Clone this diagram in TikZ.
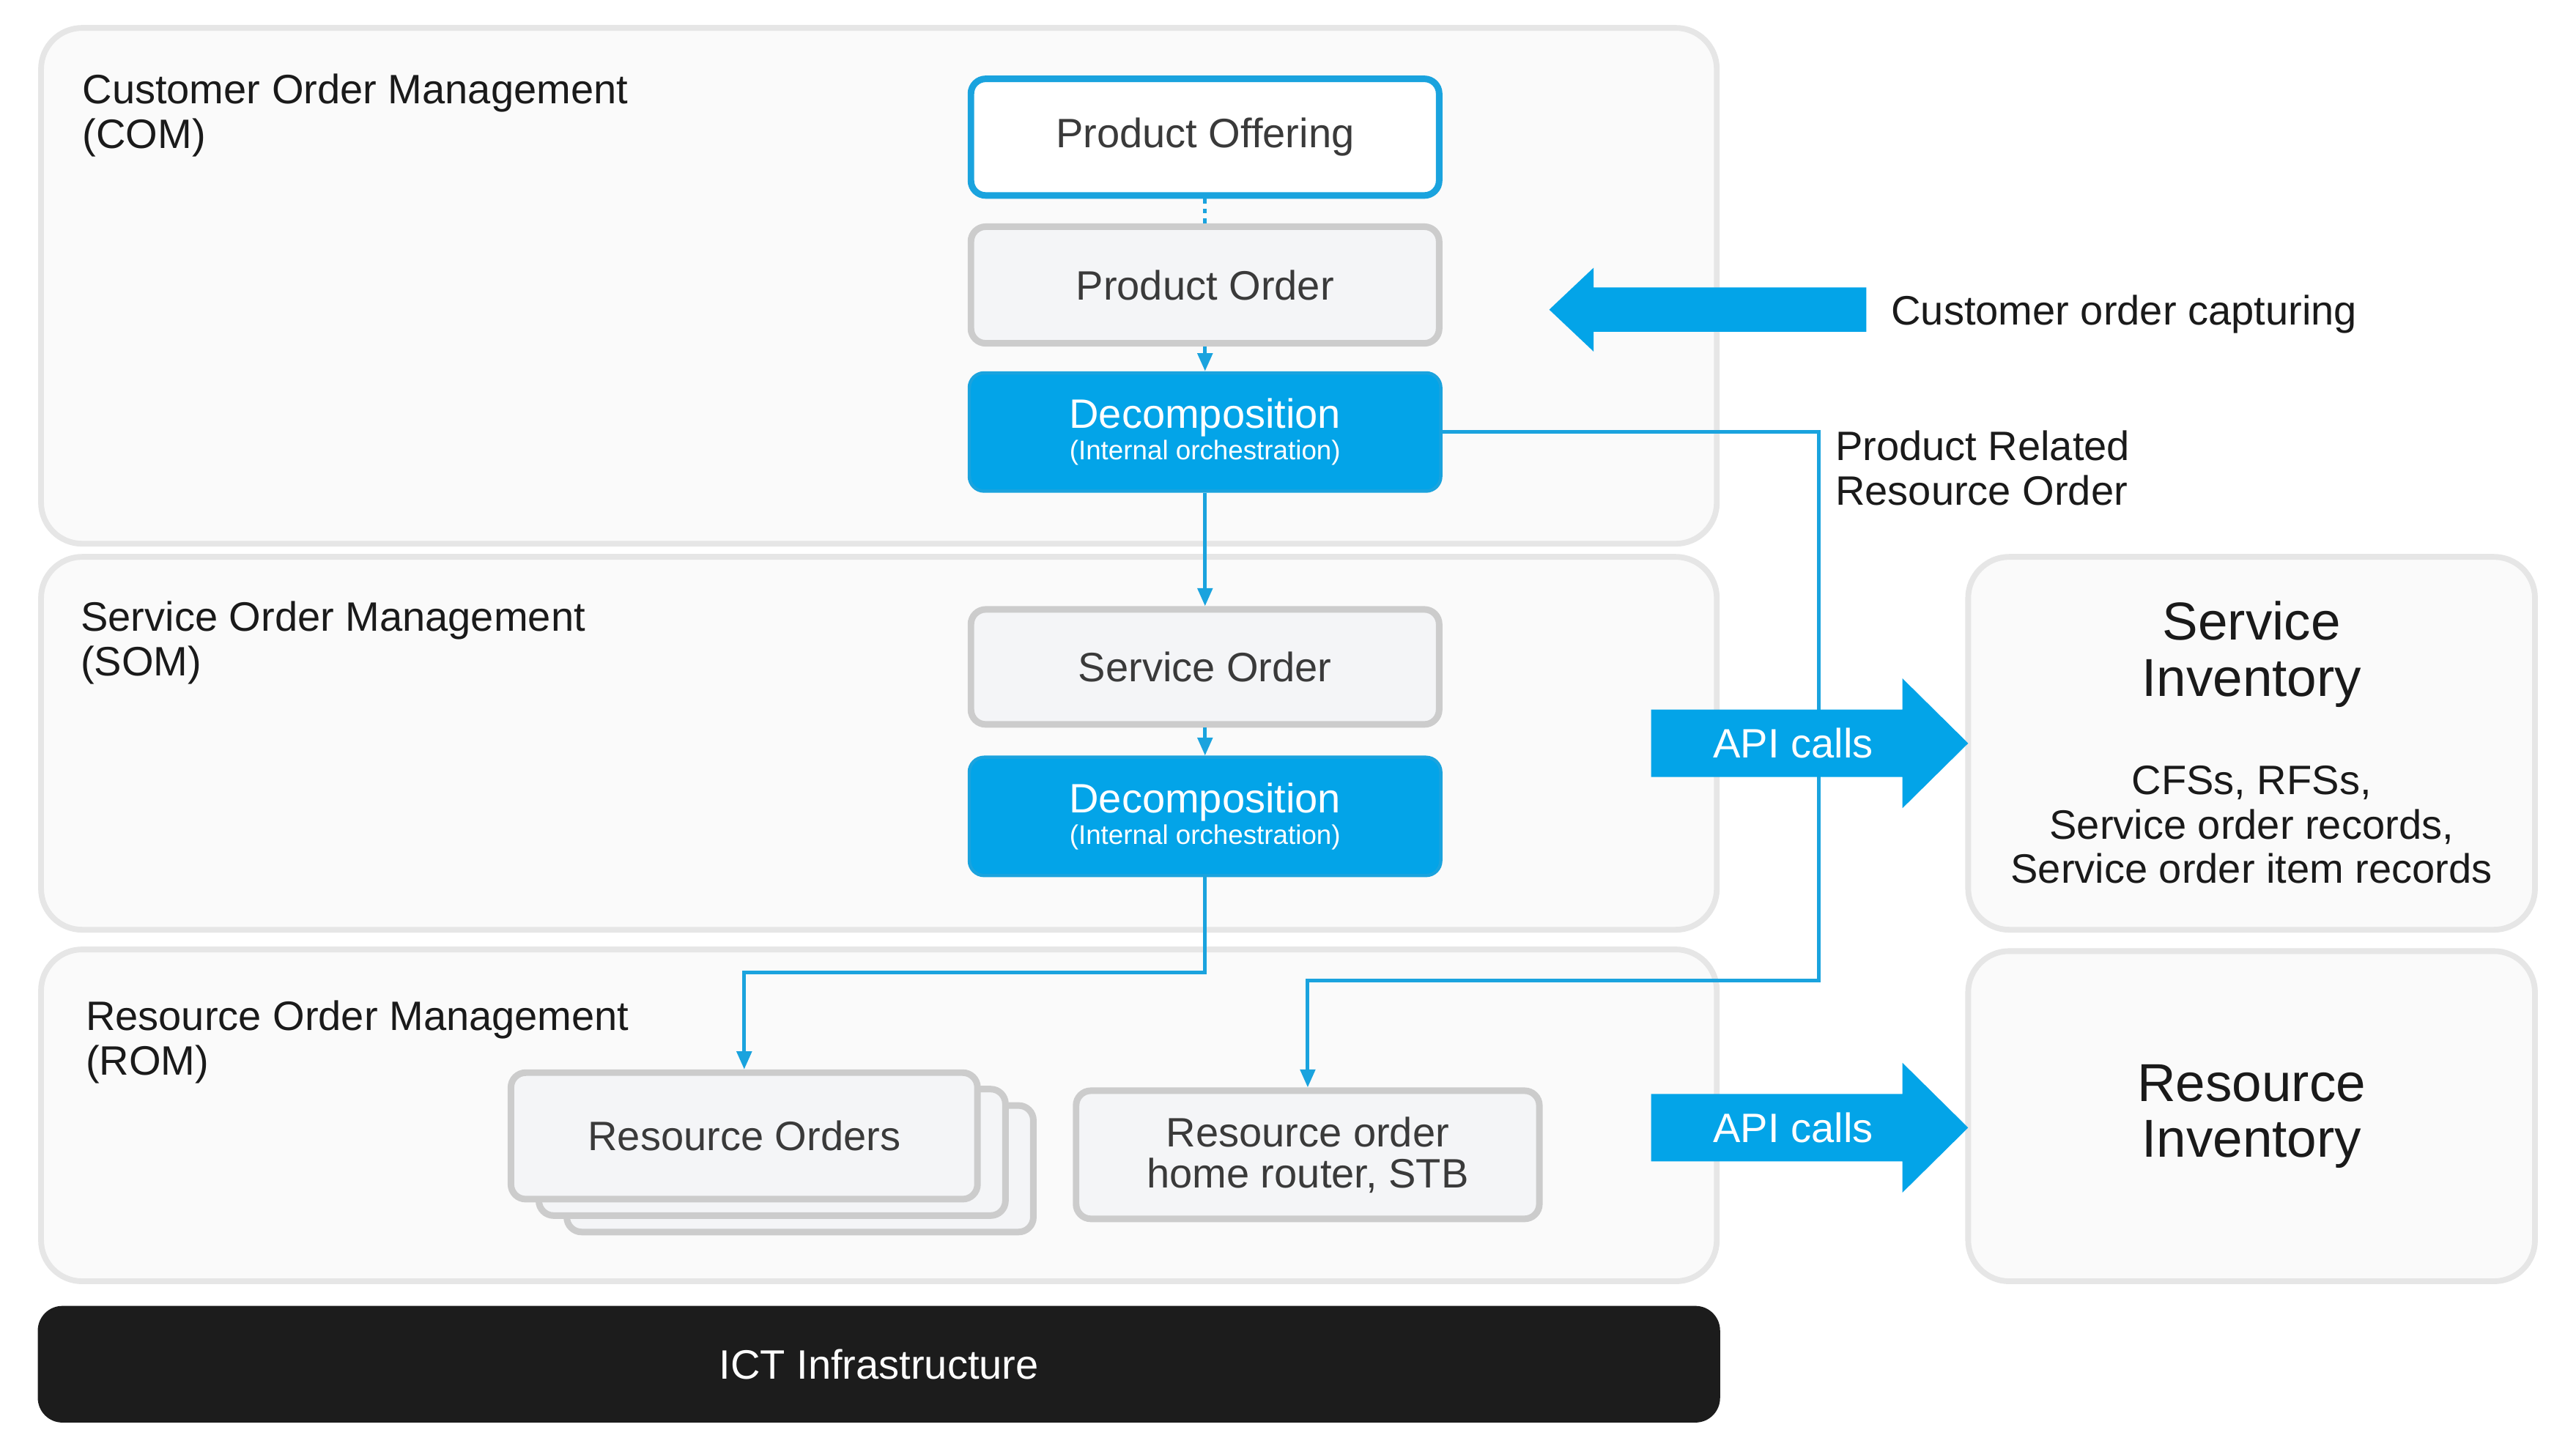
\documentclass[tikz,border=0pt]{standalone}
\usepackage{fontspec}
\setmainfont{Liberation Sans}
\usetikzlibrary{arrows.meta}
\definecolor{brandblue}{HTML}{03A4E8}
\definecolor{linkblue}{HTML}{1AA3DE}
\definecolor{panelfill}{HTML}{FAFAFA}
\definecolor{panelline}{HTML}{E6E6E6}
\definecolor{boxfill}{HTML}{F4F5F7}
\definecolor{boxline}{HTML}{CCCCCC}
\definecolor{inktext}{HTML}{1A1A1A}
\definecolor{boxtext}{HTML}{3A3A3A}
\definecolor{barblack}{HTML}{1C1C1C}
\begin{document}
\begin{tikzpicture}[x=1pt,y=-1pt,
  panel/.style={draw=panelline, fill=panelfill, line width=3.5pt, rounded corners=25pt, inner sep=0pt},
  lbl/.style={font=\fontsize{25}{27}\selectfont, text=inktext, align=left, inner sep=0pt, anchor=north west},
  graybox/.style={draw=boxline, fill=boxfill, line width=4pt, rounded corners=9pt, minimum width=285pt, minimum height=71pt, font=\fontsize{25}{27}\selectfont, text=boxtext, align=center, inner sep=0pt},
  offerbox/.style={graybox, draw=linkblue, fill=white},
  decbox/.style={draw=linkblue, fill=brandblue, line width=2pt, rounded corners=9pt, minimum width=287pt, minimum height=72pt, font=\fontsize{25}{19}\selectfont, text=white, align=center, inner sep=0pt},
  link/.style={draw=linkblue, line width=2.2pt},
  arr/.style={link, -{Triangle[width=9pt,length=11pt]}},
  bigarrow/.style={fill=brandblue},
  arrowtext/.style={font=\fontsize{25}{27}\selectfont, text=white, inner sep=0pt}
]
\useasboundingbox (0,0) rectangle (1568,882);
\fill[white] (0,0) rectangle (1568,882);

% containers
\node[panel, minimum width=1020pt, minimum height=314pt] (com) at (535,174) {};
\node[panel, minimum width=1020pt, minimum height=227pt] (som) at (535,452.5) {};
\node[panel, minimum width=1020pt, minimum height=202pt] (rom) at (535,679) {};
\node[fill=barblack, rounded corners=15pt, minimum width=1024pt, minimum height=71pt, inner sep=0pt,
      font=\fontsize{25}{27}\selectfont, text=white] (ict) at (535,830.5) {ICT Infrastructure};
\node[panel, minimum width=345pt, minimum height=227pt] (sinv) at (1370.5,452.5) {};
\node[panel, minimum width=345pt, minimum height=201pt, font=\fontsize{32.5}{34}\selectfont, text=inktext, align=center] (rinv) at (1370.5,679.5) {Resource\\Inventory};

% container labels
\node[lbl] (comlbl) at (50,45) {Customer Order Management\\(COM)};
\node[lbl] (somlbl) at (49,366) {Service Order Management\\(SOM)};
\node[lbl] (romlbl) at (52,609) {Resource Order Management\\(ROM)};

% inventory texts
\node[font=\fontsize{32.5}{34}\selectfont, text=inktext, align=center, inner sep=0pt, anchor=north] (sinvt) at (1370.5,366) {Service\\Inventory};
\node[font=\fontsize{25}{27}\selectfont, text=inktext, align=center, inner sep=0pt, anchor=north] (sinvd) at (1370.5,466) {CFSs, RFSs,\\Service order records,\\Service order item records};

% process boxes
\node[offerbox] (po) at (733.5,83.5) {Product Offering};
\node[graybox] (pord) at (733.5,173.5) {Product Order};
\node[decbox] (dec1) at (733.5,263) {Decomposition\\{\fontsize{16.4}{18}\selectfont(Internal orchestration)}};
\node[graybox, minimum height=70pt] (so) at (733.5,406) {Service Order};
\node[decbox] (dec2) at (733.5,497) {Decomposition\\{\fontsize{16.4}{18}\selectfont(Internal orchestration)}};
\node[graybox, minimum width=284pt, minimum height=77pt] (ro3) at (487,711.5) {};
\node[graybox, minimum width=284pt, minimum height=77pt] (ro2) at (470,701.5) {};
\node[graybox, minimum width=284pt, minimum height=77pt] (ro) at (453,691.5) {Resource Orders};
\node[graybox, minimum width=282pt, minimum height=78pt, font=\fontsize{25}{25}\selectfont] (rorder) at (796,703) {Resource order\\home router, STB};

% connectors
\coordinate (j1) at (733.5,592);
\coordinate (j2) at (1107,263);
\coordinate (j3) at (1107,597);
\draw[link, dash pattern=on 3pt off 3pt] (po.south) -- (pord.north);
\draw[arr] (pord.south) -- (dec1.north);
\draw[arr] (dec1.south) -- (so.north);
\draw[arr] (so.south) -- (dec2.north);
\draw[arr] (dec2.south) -- (j1) -| (ro.north);
\draw[arr] (dec1.east) -- (j2) -- (j3) -| (rorder.north);

\node[lbl] (prro) at (1117,262) {Product Related\\Resource Order};

% big arrows
\fill[bigarrow] (1136,175) -- (970,175) -- (970,163) -- (943,188.5) -- (970,214) -- (970,202) -- (1136,202) -- cycle;
\node[font=\fontsize{25}{27}\selectfont, text=inktext, inner sep=0pt, anchor=base west] (coc) at (1151,198) {Customer order capturing};

\fill[bigarrow] (1005,432) -- (1158,432) -- (1158,413) -- (1198,452.5) -- (1158,492) -- (1158,473) -- (1005,473) -- cycle;
\node[arrowtext] (api1) at (1091.5,452.5) {API calls};
\fill[bigarrow] (1005,666) -- (1158,666) -- (1158,647) -- (1198,686.5) -- (1158,726) -- (1158,707) -- (1005,707) -- cycle;
\node[arrowtext] (api2) at (1091.5,686.5) {API calls};
\end{tikzpicture}
\end{document}
